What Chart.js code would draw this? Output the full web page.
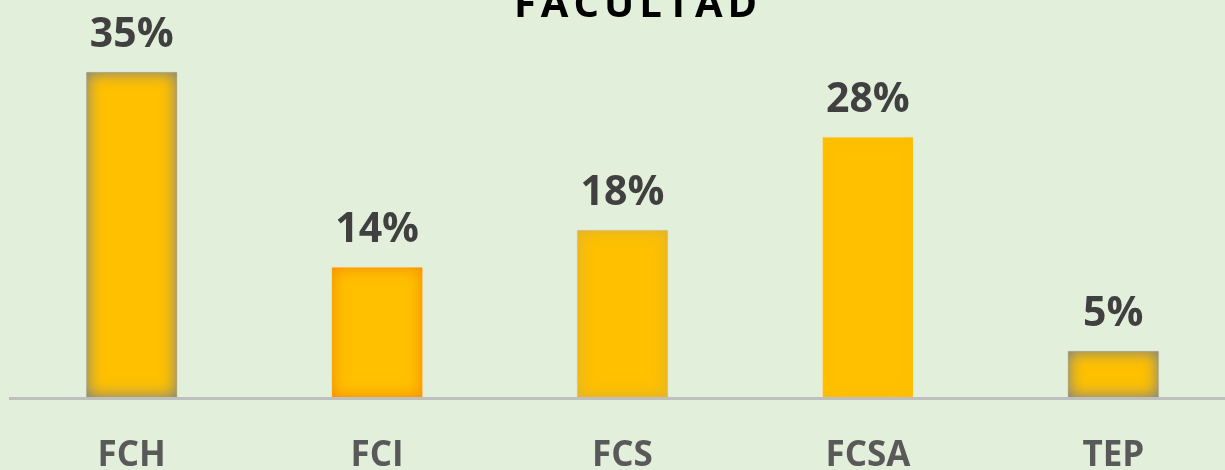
<!DOCTYPE html>
<html>
<head>
<meta charset="utf-8">
<script src="https://cdn.jsdelivr.net/npm/chart.js@4/dist/chart.umd.min.js"></script>
<style>
  html, body { margin: 0; padding: 0; overflow: hidden; background: #E2EFDA; }
  #wrap { position: absolute; left: 0; top: 0; width: 1245px; height: 470px; }
</style>
</head>
<body>
<div id="wrap"><canvas id="chart"></canvas></div>
<script>
// Faculties and share of respondents (%)
const categories = ['FCH', 'FCI', 'FCS', 'FCSA', 'TEP'];
const shares = [35, 14, 18, 28, 5];
const chartTitle = 'FACULTAD';

// Inner glow colour of each bar's edges, and its thin outline
const glowColors = [
  'rgba(110,125,150,1)',
  'rgba(242,130,0,0.95)',
  'rgba(150,150,150,0.6)',
  'rgba(235,170,0,0.35)',
  'rgba(110,125,150,1)'
];
const edgeColors = ['#C8D9E6', '#FAD9A2', '#DADDD2', '#F8E4B0', '#C8D9E6'];

const innerGlow = {
  id: 'innerGlow',
  afterDatasetsDraw(chart) {
    const ctx = chart.ctx;
    chart.getDatasetMeta(0).data.forEach((bar, i) => {
      const p = bar.getProps(['x', 'y', 'base', 'width'], true);
      const left = p.x - p.width / 2 + 1, top = p.y + 1, h = p.base - p.y - 1, w = p.width - 2;
      ctx.save();
      ctx.beginPath();
      ctx.rect(left, top, w, h);
      ctx.clip();
      ctx.beginPath();
      ctx.rect(left - 200, top - 200, w + 400, h + 400);
      ctx.rect(left, top, w, h);
      ctx.shadowColor = glowColors[i];
      ctx.shadowBlur = 16;
      ctx.fillStyle = glowColors[i];
      ctx.fill('evenodd');
      ctx.restore();
    });
  }
};

// Category axis line, drawn just below the bars' base
const baseLine = {
  id: 'baseLine',
  afterDatasetsDraw(chart) {
    const ctx = chart.ctx;
    const a = chart.chartArea;
    ctx.save();
    ctx.strokeStyle = '#BFBFBF';
    ctx.lineWidth = 3;
    ctx.beginPath();
    ctx.moveTo(a.left, a.bottom + 1.5);
    ctx.lineTo(a.right, a.bottom + 1.5);
    ctx.stroke();
    ctx.restore();
  }
};

const valueLabels = {
  id: 'valueLabels',
  afterDatasetsDraw(chart) {
    const ctx = chart.ctx;
    const ds = chart.data.datasets[0];
    ctx.save();
    ctx.font = 'bold 41px "Open Sans"';
    ctx.fillStyle = '#404040';
    ctx.textAlign = 'center';
    ctx.textBaseline = 'alphabetic';
    chart.getDatasetMeta(0).data.forEach((bar, i) => {
      ctx.fillText(ds.data[i] + '%', bar.x, bar.y - 25);
    });
    ctx.restore();
  }
};

const spacedTitle = {
  id: 'spacedTitle',
  afterDraw(chart) {
    const ctx = chart.ctx;
    const spacing = 5;
    ctx.save();
    ctx.font = 'bold 40px "Open Sans"';
    ctx.fillStyle = '#000000';
    ctx.textBaseline = 'alphabetic';
    ctx.textAlign = 'left';
    let w = 0;
    const chars = chartTitle.split('');
    chars.forEach((c, k) => { w += ctx.measureText(c).width + (k < chars.length - 1 ? spacing : 0); });
    let x = 635.5 - w / 2;
    chars.forEach(c => { ctx.fillText(c, x, 17); x += ctx.measureText(c).width + spacing; });
    ctx.restore();
  }
};

new Chart(document.getElementById('chart'), {
  type: 'bar',
  data: {
    labels: categories,
    datasets: [{
      data: shares,
      backgroundColor: '#FFC000',
      borderColor: edgeColors,
      borderWidth: { top: 1, left: 1, right: 1, bottom: 0 },
      borderSkipped: 'bottom',
      categoryPercentage: 1,
      barPercentage: 0.375
    }]
  },
  options: {
    responsive: true,
    maintainAspectRatio: false,
    animation: false,
    layout: { padding: { top: 25, left: 9, right: 9, bottom: 0 } },
    plugins: { legend: { display: false }, title: { display: false }, tooltip: { enabled: false } },
    scales: {
      y: { display: false, min: 0, max: 40 },
      x: {
        afterFit(scale) { scale.height = 73; },
        grid: { display: false, drawTicks: false },
        border: { display: false },
        ticks: {
          color: '#595959',
          font: { family: '"Open Sans"', size: 35, weight: 'bold' },
          padding: 38
        }
      }
    }
  },
  plugins: [innerGlow, baseLine, valueLabels, spacedTitle]
});
</script>
</body>
</html>
